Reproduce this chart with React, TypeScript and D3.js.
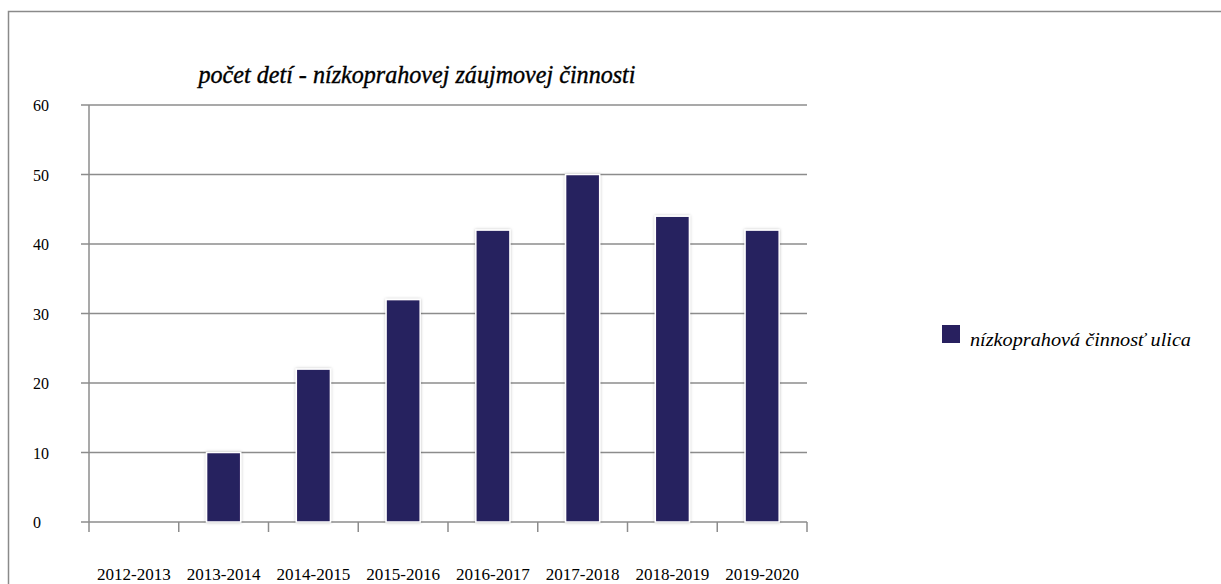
import React from "react";
import * as d3 from "d3";

const categories = ["2012-2013", "2013-2014", "2014-2015", "2015-2016", "2016-2017", "2017-2018", "2018-2019", "2019-2020"];
const values = [0, 10, 22, 32, 42, 50, 44, 42];
const yTicks = [0, 10, 20, 30, 40, 50, 60];
const title = "počet detí - nízkoprahovej  záujmovej činnosti";
const seriesName = "nízkoprahová činnosť ulica";

const W = 1221;
const H = 584;
const plotLeft = 89;
const plotRight = 807;
const plotTop = 105;
const plotBottom = 522;
const barColor = "#28205f";
const gridColor = "#8c8c8c";
const font = "'Liberation Serif', serif";

export default function App() {
  const x = d3.scaleBand<string>().domain(categories).range([plotLeft, plotRight]).paddingInner(0.62).paddingOuter(0.31);
  const step = x.step();
  const y = d3.scaleLinear().domain([0, 60]).range([plotBottom, plotTop]);
  const boundaries = d3.range(categories.length + 1).map((i) => plotLeft + i * step);

  return (
    <svg width={W} height={H} style={{ position: "absolute", left: 0, top: 0, background: "#fff" }}>
      <defs>
        <filter id="sh" x="-30%" y="-10%" width="160%" height="120%">
          <feDropShadow dx="0" dy="0" stdDeviation="1.5" floodColor="#000" floodOpacity="0.25" />
        </filter>
      </defs>
      <rect x={8.5} y={11.5} width={W} height={H} fill="none" stroke="#8a8a8a" strokeWidth={1.5} />
      <text x={417} y={83} textAnchor="middle" fontFamily={font} fontStyle="italic" fontSize={26} textLength={437} lengthAdjust="spacingAndGlyphs" fill="#000" stroke="#000" strokeWidth={0.4}>
        {title}
      </text>
      {yTicks.map((t) => (
        <g key={t}>
          <line x1={plotLeft - 8} x2={plotRight} y1={y(t)} y2={y(t)} stroke={gridColor} strokeWidth={1.5} />
          <text x={33} y={y(t) + 6} fontFamily={font} fontSize={16} fill="#000">{t}</text>
        </g>
      ))}
      <line x1={plotLeft} x2={plotLeft} y1={plotTop} y2={plotBottom} stroke={gridColor} strokeWidth={1.5} />
      {boundaries.map((bx, i) => (
        <line key={i} x1={bx} x2={bx} y1={plotBottom} y2={plotBottom + 10} stroke={gridColor} strokeWidth={1.5} />
      ))}
      {categories.map((c, i) => (
        values[i] > 0 ? (
          <rect key={c} x={x(c)} y={y(values[i])} width={x.bandwidth()} height={y(0) - y(values[i])} fill={barColor} stroke="#fff" strokeWidth={1.5} filter="url(#sh)" />
        ) : null
      ))}
      {categories.map((c) => (
        <text key={c} x={(x(c) as number) + x.bandwidth() / 2} y={580} textAnchor="middle" fontFamily={font} fontSize={16} fill="#000" textLength={74} lengthAdjust="spacingAndGlyphs">{c}</text>
      ))}
      <rect x={942} y={325} width={18} height={18} fill={barColor} />
      <text x={970} y={346} fontFamily={font} fontStyle="italic" fontSize={18} fill="#000" textLength={221} lengthAdjust="spacingAndGlyphs">{seriesName}</text>
    </svg>
  );
}
